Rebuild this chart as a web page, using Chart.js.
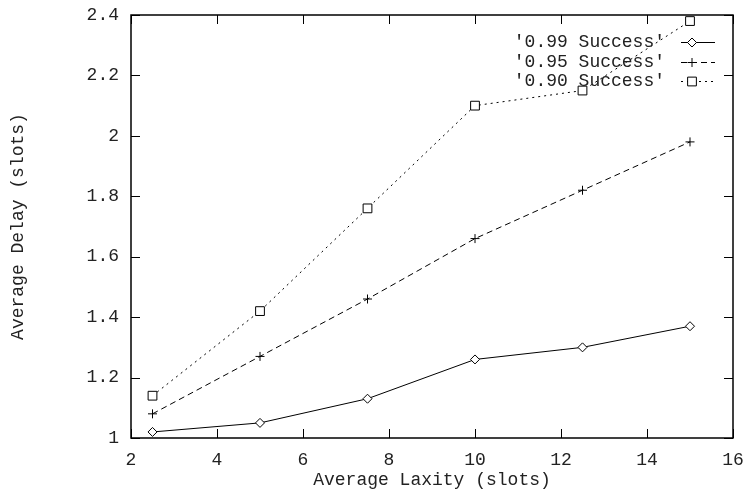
<!DOCTYPE html>
<html>
<head>
<meta charset="utf-8">
<script src="https://cdn.jsdelivr.net/npm/chart.js@4/dist/chart.umd.min.js"></script>
<style>
  html, body { margin: 0; padding: 0; background: #fff; }
  #wrap { width: 745px; height: 489px; position: relative; }
</style>
</head>
<body>
<div id="wrap"><canvas id="chart"></canvas></div>
<script>
// Data
const laxity = [2.5, 5, 7.5, 10, 12.5, 15];
const success99 = [1.02, 1.05, 1.13, 1.26, 1.30, 1.37];
const success95 = [1.08, 1.27, 1.46, 1.66, 1.82, 1.98];
const success90 = [1.14, 1.42, 1.76, 2.10, 2.15, 2.38];
const seriesNames = ["'0.99 Success'", "'0.95 Success'", "'0.90 Success'"];
const xTicks = [2, 4, 6, 8, 10, 12, 14, 16];
const yTicks = [1, 1.2, 1.4, 1.6, 1.8, 2, 2.2, 2.4];

const FONT = "'Liberation Mono', 'DejaVu Sans Mono', monospace";
const TEXT = "#222";

let toPoints = (vals) => laxity.map((x, i) => ({ x: x, y: vals[i] }));

let makeSet = (label, vals, style, radius, dash) => ({
  label: label,
  data: toPoints(vals),
  showLine: true,
  borderColor: "#000",
  borderWidth: 1,
  borderDash: dash,
  pointStyle: style,
  pointRadius: radius,
  pointBackgroundColor: "#fff",
  pointBorderColor: "#000",
  pointBorderWidth: 1,
  pointHoverRadius: radius,
});

// gnuplot style frame: full border, inward ticks on all four sides, key at top right
const gnuplotFrame = {
  id: "gnuplotFrame",
  afterDatasetsDraw(chart) {
    let ctx = chart.ctx,
      a = chart.chartArea,
      xs = chart.scales.x,
      ys = chart.scales.y,
      tl = 9;

    ctx.save();
    ctx.strokeStyle = "#000";
    ctx.lineWidth = 1;
    ctx.setLineDash([]);
    ctx.beginPath();
    xTicks.forEach((v) => {
      let px = Math.round(xs.getPixelForValue(v)) + 0.5;
      ctx.moveTo(px, a.bottom);
      ctx.lineTo(px, a.bottom - tl);
      ctx.moveTo(px, a.top);
      ctx.lineTo(px, a.top + tl);
    });
    yTicks.forEach((v) => {
      let py = Math.round(ys.getPixelForValue(v)) + 0.5;
      ctx.moveTo(a.left, py);
      ctx.lineTo(a.left + tl, py);
      ctx.moveTo(a.right, py);
      ctx.lineTo(a.right - tl, py);
    });
    ctx.stroke();

    ctx.lineWidth = 1.5;
    ctx.strokeRect(a.left, a.top, a.right - a.left, a.bottom - a.top);

    // Key
    ctx.font = "18px " + FONT;
    ctx.fillStyle = TEXT;
    ctx.textAlign = "right";
    ctx.textBaseline = "middle";
    chart.data.datasets.forEach((ds, i) => {
      let y = Math.round(42 + i * 19.5) + 0.5;
      ctx.fillText(seriesNames[i], 665, y);
      ctx.lineWidth = 1;
      ctx.setLineDash(ds.borderDash || []);
      ctx.beginPath();
      ctx.moveTo(681, y);
      ctx.lineTo(715, y);
      ctx.stroke();
      ctx.setLineDash([]);
      ctx.fillStyle = "#fff";
      Chart.helpers.drawPoint(
        ctx,
        { pointStyle: ds.pointStyle, radius: ds.pointRadius, rotation: 0, borderWidth: 1 },
        692,
        y
      );
      ctx.fillStyle = TEXT;
    });
    ctx.restore();
  },
};

new Chart(document.getElementById("chart"), {
  type: "scatter",
  data: {
    datasets: [
      makeSet(seriesNames[0], success99, "rectRot", 4.5, []),
      makeSet(seriesNames[1], success95, "cross", 4.5, [6, 4]),
      makeSet(seriesNames[2], success90, "rect", 6.2, [2, 4]),
    ],
  },
  options: {
    responsive: true,
    maintainAspectRatio: false,
    animation: false,
    events: [],
    layout: { padding: { top: 15, right: 12, left: 0, bottom: 0 } },
    plugins: {
      legend: { display: false },
      tooltip: { enabled: false },
    },
    scales: {
      x: {
        type: "linear",
        min: 2,
        max: 16,
        afterFit: (s) => {
          s.height = 51;
          s.paddingLeft = 0;
          s.paddingRight = 0;
        },
        afterBuildTicks: (s) => { s.ticks = xTicks.map((v) => ({ value: v })); },
        grid: { display: false, drawTicks: false },
        border: { display: false },
        ticks: {
          color: TEXT,
          padding: 11,
          maxRotation: 0,
          font: { family: FONT, size: 18 },
        },
        title: {
          display: true,
          text: "Average Laxity (slots)",
          color: TEXT,
          padding: { top: 0, bottom: -2 },
          font: { family: FONT, size: 18 },
        },
      },
      y: {
        type: "linear",
        min: 1,
        max: 2.4,
        afterFit: (s) => {
          s.width = 131;
          s.paddingTop = 0;
          s.paddingBottom = 0;
        },
        afterBuildTicks: (s) => { s.ticks = yTicks.map((v) => ({ value: v })); },
        grid: { display: false, drawTicks: false },
        border: { display: false },
        ticks: {
          color: TEXT,
          padding: 12,
          font: { family: FONT, size: 18 },
          callback: (v) => String(Math.round(v * 10) / 10),
        },
        title: {
          display: true,
          text: "Average Delay (slots)",
          color: TEXT,
          padding: { top: 7, bottom: 0 },
          font: { family: FONT, size: 18 },
        },
      },
    },
  },
  plugins: [gnuplotFrame],
});
</script>
</body>
</html>
